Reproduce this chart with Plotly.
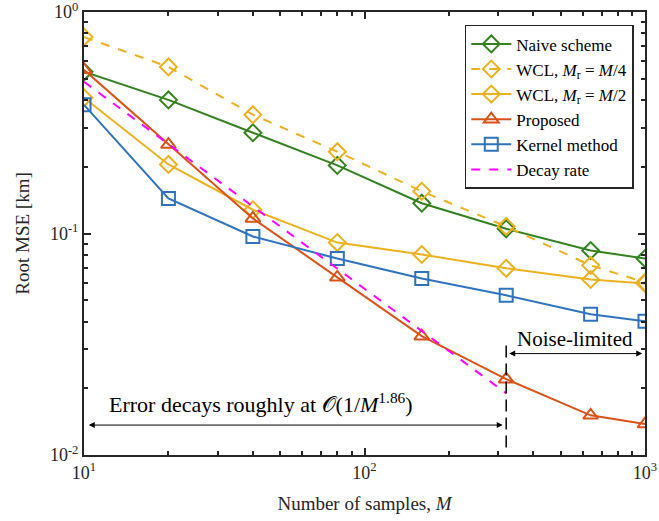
import math
import plotly.graph_objects as go

samples = [10, 20, 40, 80, 160, 320, 640, 1000]
naive = [0.537, 0.401, 0.285, 0.203, 0.137, 0.105, 0.0838, 0.0771]
wcl_q = [0.771, 0.565, 0.344, 0.234, 0.155, 0.1076, 0.0718, 0.0602]
wcl_h = [0.41, 0.205, 0.128, 0.091, 0.0804, 0.0696, 0.062, 0.0595]
proposed = [0.548, 0.252, 0.117, 0.0634, 0.0344, 0.0220, 0.0151, 0.0138]
kernel = [0.381, 0.144, 0.0969, 0.0771, 0.0627, 0.0526, 0.0432, 0.0402]
decay_x = [10, 320]
decay_y = [0.484, 0.0190]

xtick_vals = [10, 100, 1000]
xtick_text = ["10<sup>1</sup>", "10<sup>2</sup>", "10<sup>3</sup>"]
ytick_vals = [0.01, 0.1, 1]
ytick_text = ["10<sup>-2</sup>", "10<sup>-1</sup>", "10<sup>0</sup>"]
x_minor = [20, 30, 40, 50, 60, 70, 80, 90, 200, 300, 400, 500, 600, 700, 800, 900]
y_minor = [0.02, 0.03, 0.04, 0.05, 0.06, 0.07, 0.08, 0.09, 0.2, 0.3, 0.4, 0.5, 0.6, 0.7, 0.8, 0.9]

GREEN = "#33821F"
YELLOW = "#EDB120"
RED = "#D95319"
BLUE = "#2F73BF"
MAGENTA = "#FF00FF"
FONT = "Liberation Serif"
AX = "#262626"

fig = go.Figure()

def add(y, name, color, symbol, dash="solid"):
    fig.add_trace(go.Scatter(
        x=samples, y=y, name=name, mode="lines+markers",
        line=dict(color=color, width=2, dash=dash),
        marker=dict(symbol=symbol, size=13, color=color,
                    line=dict(color=color, width=2)),
    ))

add(naive, "Naive scheme", GREEN, "diamond-open")
add(wcl_q, "WCL, <i>M</i><sub>r</sub> = <i>M</i>/4", YELLOW, "diamond-open", dash="dash")
add(wcl_h, "WCL, <i>M</i><sub>r</sub> = <i>M</i>/2", YELLOW, "diamond-open")
add(proposed, "Proposed", RED, "triangle-up-open")
add(kernel, "Kernel method", BLUE, "square-open")
fig.add_trace(go.Scatter(x=decay_x, y=decay_y, name="Decay rate", mode="lines",
                         line=dict(color=MAGENTA, width=2, dash="dash")))

# vertical dashed separator at M = 320
fig.add_trace(go.Scatter(x=[320, 320], y=[0.0108, 0.033], mode="lines",
                         line=dict(color="black", width=1.5, dash="12px,6px"),
                         showlegend=False, hoverinfo="skip"))

ya = math.log10(0.01365)
yb = math.log10(0.0287)
fig.add_annotation(x=math.log10(10.4), y=ya, ax=math.log10(315), ay=ya,
                   xref="x", yref="y", axref="x", ayref="y", text="",
                   showarrow=True, arrowhead=2, arrowside="end+start",
                   arrowsize=1.2, arrowwidth=1, arrowcolor="black")
fig.add_annotation(x=math.log10(328), y=yb, ax=math.log10(990), ay=yb,
                   xref="x", yref="y", axref="x", ayref="y", text="",
                   showarrow=True, arrowhead=2, arrowside="end+start",
                   arrowsize=1.2, arrowwidth=1, arrowcolor="black")
fig.add_annotation(x=math.log10(42.8), y=math.log10(0.0172), xref="x", yref="y",
                   text="Error decays roughly at 𝒪(1/<i>M</i><sup>1.86</sup>)",
                   showarrow=False, font=dict(family=FONT, size=22, color="black"))
fig.add_annotation(x=math.log10(565), y=math.log10(0.0335), xref="x", yref="y",
                   text="Noise-limited", showarrow=False,
                   font=dict(family=FONT, size=21, color="black"))

axis_common = dict(
    showline=True, linecolor=AX, linewidth=2, mirror="allticks",
    ticks="inside", ticklen=7, tickwidth=1.5, tickcolor=AX,
    showgrid=False, zeroline=False, automargin=False,
    ticklabeloverflow="allow",
    tickfont=dict(family=FONT, size=18, color=AX),
)

fig.update_xaxes(type="log", range=[1, 3], tickmode="array",
                 tickvals=xtick_vals, ticktext=xtick_text,
                 minor=dict(ticks="inside", ticklen=4, tickwidth=1.5,
                            tickcolor=AX, tickvals=x_minor),
                 title=dict(text="Number of samples, <i>M</i>",
                            font=dict(family=FONT, size=19, color=AX)),
                 **axis_common)
fig.update_yaxes(type="log", range=[-2, 0], tickmode="array",
                 tickvals=ytick_vals, ticktext=ytick_text,
                 minor=dict(ticks="inside", ticklen=4, tickwidth=1.5,
                            tickcolor=AX, tickvals=y_minor),
                 title=dict(text="Root MSE [km]",
                            font=dict(family=FONT, size=19, color=AX)),
                 **axis_common)

fig.update_layout(
    width=659, height=521,
    margin=dict(l=84, r=14, t=12, b=66),
    plot_bgcolor="white", paper_bgcolor="white",
    font=dict(family=FONT, size=18, color="black"),
    legend=dict(x=0.98, y=0.971, xanchor="right", yanchor="top",
                bgcolor="white", bordercolor=AX, borderwidth=1.5,
                font=dict(family=FONT, size=17, color="black"),
                tracegroupgap=0, itemwidth=40),
    showlegend=True,
)

fig.write_html("out.html", config={"displayModeBar": False},
               post_script="document.body.style.margin='0';document.body.style.overflow='hidden';")
